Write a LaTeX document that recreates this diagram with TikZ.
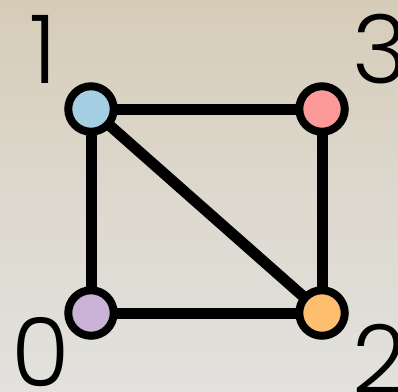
\documentclass[tikz,border=0pt]{standalone}
\usepackage{fontspec}
\setmainfont{Poppins}[UprightFont=* Light]
\definecolor{bgtop}{RGB}{214,204,184}
\definecolor{bgbot}{RGB}{226,225,221}
\definecolor{cblue}{HTML}{A6CEE3}
\definecolor{cpink}{HTML}{FB9A99}
\definecolor{cpurple}{HTML}{CAB2D6}
\definecolor{corange}{HTML}{FDBF6F}
\tikzset{
  vert/.style={circle,draw=black,line width=8pt,minimum size=45.5pt,inner sep=0pt},
  edge/.style={draw=black,line width=11pt},
  lbl/.style={font=\fontsize{95}{95}\selectfont,inner sep=0pt,anchor=base,text=black}
}
\begin{document}
\begin{tikzpicture}[x=1pt,y=-1pt]
\useasboundingbox (0,0) rectangle (398,391);
\shade[top color=bgtop,bottom color=bgbot,middle color=bgbot!60!bgtop] (0,0) rectangle (398,391);
\coordinate (p1) at (91,109);
\coordinate (p3) at (322,109);
\coordinate (p0) at (91,313);
\coordinate (p2) at (322,313);
\draw[edge] (p1) -- (p3);
\draw[edge] (p1) -- (p0);
\draw[edge] (p1) -- (p2);
\draw[edge] (p3) -- (p2);
\draw[edge] (p0) -- (p2);
\node[vert,fill=cblue] (n1) at (p1) {};
\node[vert,fill=cpink] (n3) at (p3) {};
\node[vert,fill=cpurple] (n0) at (p0) {};
\node[vert,fill=corange] (n2) at (p2) {};
\node[lbl] (l1) at (43,83) {1};
\node[lbl] (l3) at (380,83) {3};
\node[lbl] (l0) at (41,386) {0};
\node[lbl] (l2) at (380,393) {2};
\end{tikzpicture}
\end{document}
